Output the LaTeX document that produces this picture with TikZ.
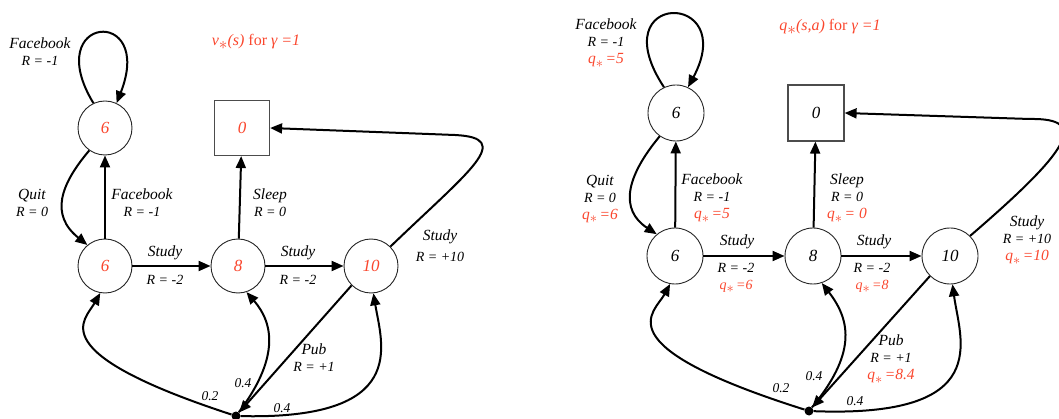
\documentclass[tikz,border=0pt]{standalone}
\usepackage{fontspec}
\setmainfont{Liberation Serif}
\usepackage{tikz}
\usetikzlibrary{arrows.meta}
\definecolor{qred}{RGB}{250,70,45}
\newcommand{\lowstar}{\raisebox{-0.22em}{$\ast$}}
\newcommand{\qstar}[1]{\textcolor{qred}{\textit{q}\lowstar\,\textit{#1}}}

\begin{document}
\begin{tikzpicture}[x=1pt, y=-1pt,
  state/.style={circle, draw=black!85, line width=0.9pt, fill=white,
                minimum size=54pt, inner sep=0pt,
                font=\fontsize{17}{17}\selectfont\itshape},
  term/.style={rectangle, draw=black!70, line width=1.2pt, fill=white,
               minimum size=55pt, inner sep=0pt,
               font=\fontsize{17}{17}\selectfont\itshape},
  dot/.style={circle, fill=black, minimum size=9pt, inner sep=0pt},
  arr/.style={-{Triangle[length=12pt, width=10pt]}, line width=2pt, black},
  lab/.style={align=center, inner sep=0pt,
              font=\fontsize{15.5}{17}\selectfont\itshape},
  rew/.style={align=center, inner sep=0pt,
              font=\fontsize{14}{17}\selectfont\itshape},
  prob/.style={inner sep=0pt, font=\fontsize{13.5}{14}\selectfont\itshape},
  ttl/.style={inner sep=0pt, text=qred, font=\fontsize{16}{16}\selectfont}
]
\useasboundingbox (0,0) rectangle (1059,419);
%% LEFT: optimal state values
\node[ttl] (ttlL) at (256,42) {\textit{v}\lowstar\textit{(s)} for \textit{γ =1}};
\node[state, text=qred] (fbL)    at (105,128) {6};
\node[term,  text=qred] (sleepL) at (242,128) {0};
\node[state, text=qred] (c1L)    at (105,266) {6};
\node[state, text=qred] (c2L)    at (238,266) {8};
\node[state, text=qred] (c3L)    at (371,266) {10};
\node[dot]              (pubL)   at (236,416) {};
\draw[arr] (fbL.115) .. controls (40,15) and (155,5) .. (fbL.65);
\draw[arr] (fbL.235) .. controls (60,185) and (50,215) .. (c1L.130);
\draw[arr] (c1L) -- (fbL);
\draw[arr] (c2L) -- (sleepL);
\draw[arr] (c1L) -- (c2L);
\draw[arr] (c2L) -- (c3L);
\draw[arr] (c3L.45) .. controls (470,170) and (515,138) .. (455,135) -- (sleepL.east);
\draw[arr] (c3L.225) -- (pubL);
\draw[arr] (pubL) .. controls (40,352) and (85,320) .. (c1L.260);
\draw[arr] (pubL) .. controls (278,360) and (275,325) .. (c2L.288);
\draw[arr] (pubL) .. controls (410,420) and (382,345) .. (c3L.275);
\node[lab] (fbloopL) at (40,52)    {Facebook\\{\fontsize{14}{17}\selectfont R = -1}};
\node[lab] (quitL)   at (32,203)   {Quit\\{\fontsize{14}{17}\selectfont R = 0}};
\node[lab] (fbupL)   at (142,203)  {Facebook\\{\fontsize{14}{17}\selectfont R = -1}};
\node[lab] (sleepLb) at (270,203)  {Sleep\\{\fontsize{14}{17}\selectfont R = 0}};
\node[lab] (st1L)    at (165,253)  {Study};
\node[rew] (r1L)     at (165,280)  {R = -2};
\node[lab] (st2L)    at (298,253)  {Study};
\node[rew] (r2L)     at (298,280)  {R = -2};
\node[lab] (st3L)    at (440,246)  {Study\\[4pt]{\fontsize{14}{17}\selectfont R = +10}};
\node[lab] (pubLb)   at (314,358)  {Pub\\{\fontsize{14}{17}\selectfont R = +1}};
\node[prob] (p1L) at (210,396) {0.2};
\node[prob] (p2L) at (243,383) {0.4};
\node[prob] (p3L) at (282,408) {0.4};
%% RIGHT: optimal action values
\node[ttl] (ttlR) at (830,27) {\textit{q}\lowstar\textit{(s,a)} for \textit{γ =1}};
\node[state, minimum size=56pt] (fbR)    at (676,113) {6};
\node[term,  minimum size=56pt] (sleepR) at (816,113) {0};
\node[state, minimum size=56pt] (c1R)    at (675,256) {6};
\node[state, minimum size=56pt] (c2R)    at (813,256) {8};
\node[state, minimum size=56pt] (c3R)    at (950,256) {10};
\node[dot]                      (pubR)   at (809,411) {};
\draw[arr] (fbR.115) .. controls (600,-10) and (740,-10) .. (fbR.65);
\draw[arr] (fbR.235) .. controls (625,178) and (620,210) .. (c1R.130);
\draw[arr] (c1R) -- (fbR);
\draw[arr] (c2R) -- (sleepR);
\draw[arr] (c1R) -- (c2R);
\draw[arr] (c2R) -- (c3R);
\draw[arr] (c3R.45) .. controls (1070,150) and (1090,118) .. (1030,119) -- (sleepR.east);
\draw[arr] (c3R.225) -- (pubR);
\draw[arr] (pubR) .. controls (600,345) and (655,312) .. (c1R.260);
\draw[arr] (pubR) .. controls (855,355) and (852,322) .. (c2R.288);
\draw[arr] (pubR) .. controls (995,418) and (960,340) .. (c3R.275);
\node[lab] (fbloopR) at (606,43)   {Facebook\\{\fontsize{14}{17}\selectfont R = -1}\\\qstar{=5}};
\node[lab] (quitR)   at (600,199)  {Quit\\{\fontsize{14}{17}\selectfont R = 0}\\\qstar{=6}};
\node[lab] (fbupR)   at (712,198)  {Facebook\\{\fontsize{14}{17}\selectfont R = -1}\\\qstar{=5}};
\node[lab] (sleepRb) at (847,198)  {Sleep\\{\fontsize{14}{17}\selectfont R = 0}\\\qstar{= 0}};
\node[lab] (st1R)    at (737,242)  {Study};
\node[rew] (r1R)     at (736,278)  {R = -2\\\qstar{=6}};
\node[lab] (st2R)    at (874,242)  {Study};
\node[rew] (r2R)     at (872,278)  {R = -2\\\qstar{=8}};
\node[lab] (st3R)    at (1027,240) {Study\\{\fontsize{14}{17}\selectfont R = +10}\\\qstar{=10}};
\node[lab] (pubRb)   at (891,359)  {Pub\\{\fontsize{14}{17}\selectfont R = +1}\\\qstar{=8.4}};
\node[prob] (p1R) at (781,388) {0.2};
\node[prob] (p2R) at (814,376) {0.4};
\node[prob] (p3R) at (855,401) {0.4};
\end{tikzpicture}
\end{document}
